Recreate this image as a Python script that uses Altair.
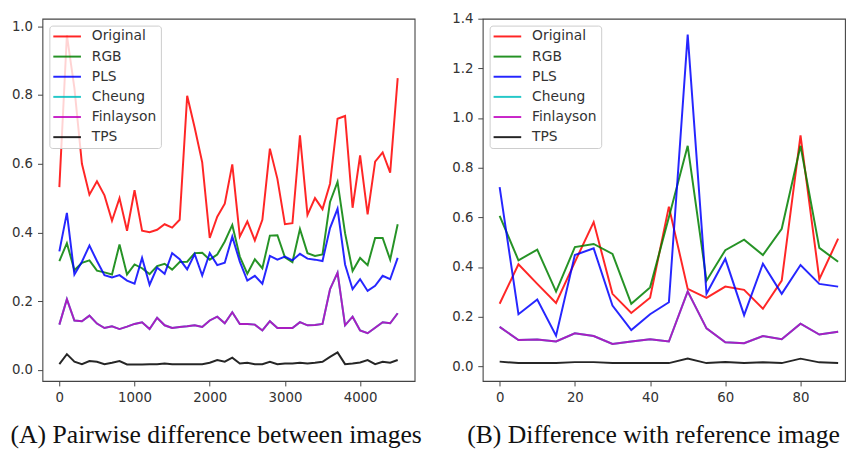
import altair as alt
import pandas as pd

SERIES = ["Original", "RGB", "PLS", "Cheung", "Finlayson", "TPS"]
COLORS = ["#ff0000", "#008000", "#0000ff", "#00bfbf", "#bf00bf", "#000000"]

# ---------- panel A: pairwise difference between images ----------
X_A = list(range(0, 4600, 100))
ORIGINAL_A = [0.532, 0.974, 0.820, 0.600, 0.510, 0.549, 0.508, 0.434, 0.500, 0.405,
              0.523, 0.405, 0.401, 0.408, 0.424, 0.414, 0.437, 0.798, 0.705, 0.604,
              0.384, 0.446, 0.484, 0.598, 0.388, 0.432, 0.377, 0.437, 0.644, 0.556,
              0.424, 0.427, 0.683, 0.451, 0.500, 0.468, 0.542, 0.731, 0.739, 0.472,
              0.624, 0.453, 0.606, 0.633, 0.574, 0.849]
RGB_A = [0.317, 0.369, 0.290, 0.312, 0.319, 0.289, 0.284, 0.278, 0.365, 0.278,
         0.307, 0.296, 0.279, 0.302, 0.309, 0.292, 0.314, 0.315, 0.340, 0.341,
         0.321, 0.336, 0.374, 0.422, 0.330, 0.280, 0.322, 0.296, 0.391, 0.392,
         0.328, 0.314, 0.410, 0.340, 0.332, 0.336, 0.489, 0.547, 0.398, 0.288,
         0.326, 0.305, 0.384, 0.384, 0.321, 0.424]
PLS_A = [0.345, 0.457, 0.278, 0.315, 0.362, 0.317, 0.276, 0.269, 0.276, 0.260,
         0.251, 0.326, 0.248, 0.298, 0.280, 0.340, 0.322, 0.293, 0.337, 0.275,
         0.340, 0.305, 0.312, 0.388, 0.315, 0.260, 0.274, 0.251, 0.332, 0.321,
         0.330, 0.319, 0.338, 0.324, 0.321, 0.317, 0.413, 0.469, 0.307, 0.235,
         0.264, 0.230, 0.245, 0.274, 0.264, 0.326]
FINLAYSON_A = [0.132, 0.206, 0.144, 0.142, 0.158, 0.135, 0.122, 0.127, 0.119, 0.126,
               0.134, 0.139, 0.119, 0.152, 0.130, 0.122, 0.125, 0.127, 0.130, 0.125,
               0.144, 0.155, 0.136, 0.168, 0.134, 0.134, 0.132, 0.115, 0.142, 0.122,
               0.122, 0.122, 0.139, 0.130, 0.131, 0.134, 0.235, 0.283, 0.130, 0.155,
               0.115, 0.107, 0.123, 0.139, 0.136, 0.165]
# the cyan Cheung curve is completely hidden underneath the Finlayson curve
CHEUNG_A = list(FINLAYSON_A)
TPS_A = [0.017, 0.046, 0.024, 0.017, 0.026, 0.024, 0.017, 0.021, 0.026, 0.016,
         0.016, 0.016, 0.017, 0.017, 0.019, 0.017, 0.017, 0.017, 0.017, 0.017,
         0.021, 0.029, 0.024, 0.036, 0.019, 0.021, 0.017, 0.017, 0.024, 0.017,
         0.019, 0.019, 0.021, 0.019, 0.021, 0.024, 0.038, 0.051, 0.017, 0.019,
         0.022, 0.029, 0.017, 0.024, 0.021, 0.029]

# ---------- panel B: difference with reference image ----------
X_B = list(range(0, 95, 5))
ORIGINAL_B = [0.252, 0.411, 0.332, 0.255, 0.420, 0.581, 0.292, 0.215, 0.276, 0.643,
              0.312, 0.276, 0.321, 0.308, 0.232, 0.345, 0.930, 0.351, 0.514]
RGB_B = [0.606, 0.427, 0.470, 0.301, 0.480, 0.493, 0.453, 0.252, 0.318, 0.600,
         0.888, 0.345, 0.468, 0.510, 0.448, 0.554, 0.888, 0.477, 0.421]
PLS_B = [0.722, 0.210, 0.269, 0.123, 0.448, 0.475, 0.245, 0.146, 0.210, 0.258,
         1.336, 0.292, 0.433, 0.206, 0.413, 0.292, 0.408, 0.332, 0.321]
FINLAYSON_B = [0.159, 0.106, 0.108, 0.100, 0.133, 0.122, 0.090, 0.100, 0.109, 0.100,
               0.302, 0.153, 0.097, 0.093, 0.122, 0.109, 0.172, 0.128, 0.139]
CHEUNG_B = list(FINLAYSON_B)
TPS_B = [0.019, 0.013, 0.013, 0.013, 0.017, 0.017, 0.013, 0.013, 0.013, 0.013,
         0.031, 0.013, 0.017, 0.013, 0.016, 0.013, 0.031, 0.016, 0.013]

X_TICKS_A = [0, 1000, 2000, 3000, 4000]
Y_TICKS_A = [0.0, 0.2, 0.4, 0.6, 0.8, 1.0]
X_TICKS_B = [0, 20, 40, 60, 80]
Y_TICKS_B = [0.0, 0.2, 0.4, 0.6, 0.8, 1.0, 1.2, 1.4]

CAPTION_A = "(A) Pairwise difference between images"
CAPTION_B = "(B) Difference with reference image"


def long_table(xs, columns):
    rows = []
    for k, name in enumerate(SERIES):
        for x, v in zip(xs, columns[k]):
            rows.append({"x": x, "value": v, "series": name, "k": k})
    return pd.DataFrame(rows)


df_a = long_table(X_A, [ORIGINAL_A, RGB_A, PLS_A, CHEUNG_A, FINLAYSON_A, TPS_A])
df_b = long_table(X_B, [ORIGINAL_B, RGB_B, PLS_B, CHEUNG_B, FINLAYSON_B, TPS_B])

AXIS_FONT = "DejaVu Sans"


def panel(df, xdom, ydom, xticks, yticks, width, caption, dx):
    legend = alt.Legend(
        title=None, orient="top-left", offset=6.5, padding=4,
        symbolType="M-3,0H3", symbolSize=87, symbolStrokeWidth=2,
        symbolOffset=7, labelOffset=18, rowPadding=6.4,
        labelFont=AXIS_FONT, labelFontSize=14, labelColor="#333333",
        strokeColor="#cccccc", fillColor="rgba(255,255,255,0.8)",
        cornerRadius=3, symbolOpacity=0.85,
    )
    return alt.Chart(df).mark_line(strokeWidth=2, opacity=0.85).encode(
        x=alt.X("x:Q", scale=alt.Scale(domain=xdom, nice=False, zero=False),
                axis=alt.Axis(values=xticks, format="d", title=None)),
        y=alt.Y("value:Q", scale=alt.Scale(domain=ydom, nice=False, zero=False),
                axis=alt.Axis(values=yticks, format=".1f", title=None,
                              minExtent=34, maxExtent=34)),
        color=alt.Color("series:N", scale=alt.Scale(domain=SERIES, range=COLORS),
                        legend=legend),
    ).properties(
        width=width, height=367,
        title=alt.TitleParams(
            text=caption, orient="bottom", anchor="middle", frame="group",
            dx=dx, offset=18, font="Liberation Serif", fontSize=26,
            fontWeight="normal", color="#111111",
        ),
    )


left = panel(df_a, [-225, 4725], [-0.032, 1.022], X_TICKS_A, Y_TICKS_A, 377, CAPTION_A, -12.5)
right = panel(df_b, [-4.5, 91.83], [-0.059, 1.40], X_TICKS_B, Y_TICKS_B, 367, CAPTION_B, -10.5)

chart = alt.hconcat(left, right, spacing=26).resolve_scale(
    color="independent", x="independent", y="independent"
).properties(
    padding={"left": 8, "top": 8, "right": 0, "bottom": 0},
).configure_view(
    stroke="#444444", strokeWidth=1.1,
).configure_axis(
    domain=False, grid=False, ticks=True, tickColor="#444444", tickSize=5,
    tickWidth=1, labelFont=AXIS_FONT, labelFontSize=13.5, labelColor="#333333",
    labelPadding=5,
)

chart.save("out.html", embed_options={"renderer": "svg", "actions": False})
